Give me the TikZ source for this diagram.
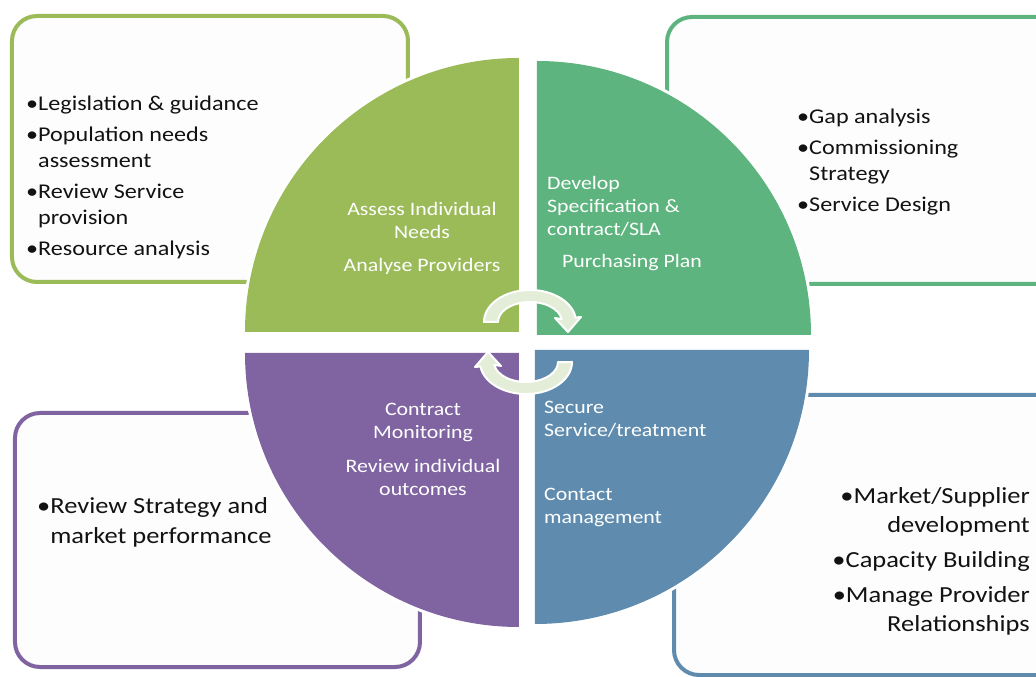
\documentclass[tikz,border=0pt]{standalone}
\usepackage{fontspec}
\setmainfont{Carlito}[FakeStretch=1.15]
\usetikzlibrary{calc}
\definecolor{leafgreen}{HTML}{9BBB59}
\definecolor{seagreen}{HTML}{5DB47E}
\definecolor{plum}{HTML}{8064A2}
\definecolor{steel}{HTML}{5F8CAE}
\definecolor{paper}{HTML}{FDFDFD}
\definecolor{pale}{HTML}{E3EDD8}

\begin{document}
\begin{tikzpicture}[x=1pt,y=1pt,
                    panel/.style={line width=4pt,rounded corners=25pt,fill=paper},
                    sector/.style={preaction={draw=white,line width=6pt}},
                    cyclearrow/.style={fill=pale,draw=white,line width=2pt,line join=round},
                    inside/.style={text=white,inner sep=0pt,font=\fontsize{19}{23}\selectfont},
                    bullets/.style={text=black!93,inner sep=0pt,align=left,font=\fontsize{21}{26}\selectfont}]
  \useasboundingbox (-528,-335) rectangle (508,342);

  \draw[panel,draw=leafgreen] (-516,60) rectangle (-120,326);
  \draw[panel,draw=seagreen] (139,58) rectangle (540,325);
  \draw[panel,draw=plum] (-513,-325) rectangle (-108,-71);
  \draw[panel,draw=steel] (146,-333) rectangle (540,-53);

  \coordinate (tl) at (-9,10);
  \coordinate (tr) at (9,7);
  \coordinate (bl) at (-9,-11);
  \coordinate (br) at (7,-8);
  \fill[sector,leafgreen] (tl) -- ++(-274,0) arc[start angle=180,end angle=90,radius=274] -- cycle;
  \fill[sector,seagreen] (tr) -- ++(0,274) arc[start angle=90,end angle=0,radius=274] -- cycle;
  \fill[sector,steel] (br) -- ++(274,0) arc[start angle=0,end angle=-90,radius=274] -- cycle;
  \fill[sector,plum] (bl) -- ++(0,-274) arc[start angle=270,end angle=180,radius=274] -- cycle;

  \foreach \dx/\dy/\a in {2/20/0,-2/-20/180} {
    \filldraw[cyclearrow,shift={(\dx,\dy)},rotate=\a]
      (-46,0) arc[start angle=180,end angle=8,x radius=46,y radius=32]
      -- (51,5) -- (38,-10) -- (25,4) -- (31.7,2.8)
      arc[start angle=8,end angle=180,x radius=32,y radius=20] -- cycle;
  }

  \node[inside,align=center] (assess) at (-106,104)
    {Assess Individual\\Needs\\[10pt]Analyse Providers};
  \node[inside,align=left,anchor=west] (develop) at (19,136)
    {Develop\\Specification \&\\contract/SLA};
  \node[inside,align=center] (purchasing) at (104,79) {Purchasing Plan};
  \node[inside,align=center] (monitor) at (-105,-107)
    {Contract\\Monitoring\\[11pt]Review individual\\outcomes};
  \node[inside,align=left,anchor=west] (secure) at (16,-77)
    {Secure\\Service/treatment};
  \node[inside,align=left,anchor=west] (contact) at (16,-165.5)
    {Contact\\management};

  \node[bullets,anchor=west] (policy) at (-502,165)
    {•Legislation \& guidance\\[5pt]
     •Population needs\\\hphantom{•}assessment\\[5pt]
     •Review Service\\\hphantom{•}provision\\[5pt]
     •Resource analysis};
  \node[bullets,anchor=west] (gaps) at (269,180)
    {•Gap analysis\\[5pt]
     •Commissioning\\\hphantom{•}Strategy\\[5pt]
     •Service Design};
  \node[bullets,anchor=west,font=\fontsize{23}{30}\selectfont] (strategy) at (-491,-180)
    {•Review Strategy and\\\hphantom{•}market performance};
  \node[bullets,anchor=east,align=right,font=\fontsize{23}{29}\selectfont] (market) at (502,-219.5)
    {•Market/Supplier\\development\\[6pt]
     •Capacity Building\\[6pt]
     •Manage Provider\\Relationships};
\end{tikzpicture}
\end{document}
